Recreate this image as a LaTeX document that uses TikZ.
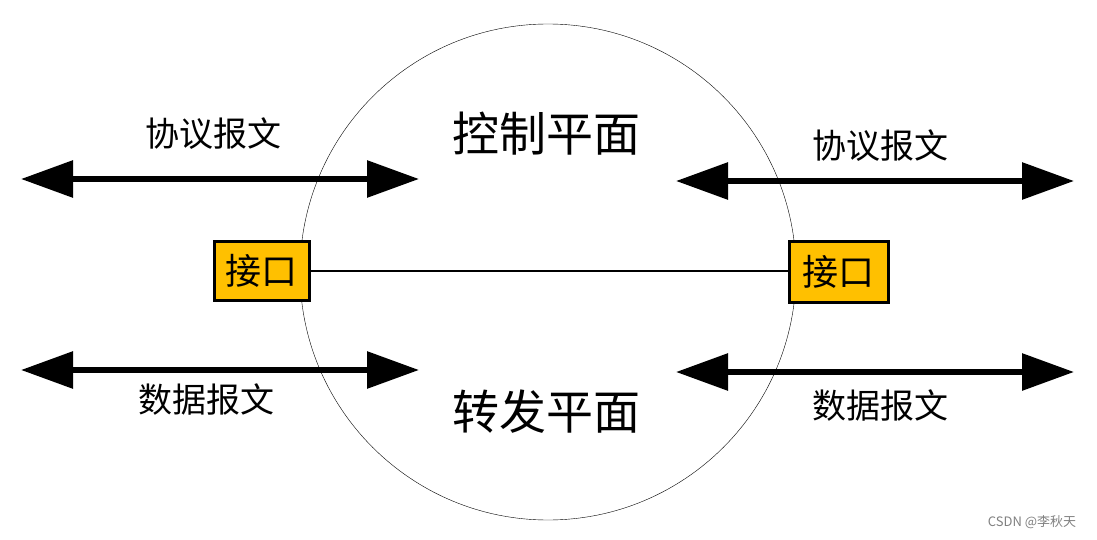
\documentclass[tikz,border=0pt]{standalone}
\usepackage{fontspec}
\setmainfont{Noto Sans CJK SC}
\usepackage{tikz}
\usetikzlibrary{positioning,arrows.meta}
\definecolor{colorport}{RGB}{255,192,0}

\begin{document}
\begin{tikzpicture}[
    x=1pt, y=-1pt,
    label/.style={font={\fontsize{34}{38}\selectfont},inner sep=0pt},
    plane/.style={font={\fontsize{47}{52}\selectfont},inner sep=0pt},
    port/.style={draw,line width=3pt,fill=colorport,minimum width=95pt,minimum height=59pt,
                 inner sep=0pt,font={\fontsize{36}{40}\selectfont}},
    msg/.style={line width=6pt,{Triangle[length=52pt,width=36pt]}-{Triangle[length=52pt,width=36pt]}},
]
    \useasboundingbox (0,0) rectangle (1097,540);

    \node[draw,circle,thin,minimum size=496pt,inner sep=0pt] (ring) at (548,272) {};

    \node[plane] (control) at (546,134) {控制平面};
    \node[plane] (forward) at (546,412) {转发平面};

    \node[port] (portl) at (261.5,271) {接口};
    \node[port,minimum width=99pt,minimum height=61pt] (portr) at (838.5,271.5) {接口};
    \draw[line width=2pt](portl.east) -- (portr.west |- portl.east);

    % left side
    \coordinate (ctrll1) at (21,179);
    \coordinate (ctrll2) at (419,179);
    \coordinate (datal1) at (21,370);
    \coordinate (datal2) at (419,370);
    \draw[msg](ctrll1) -- (ctrll2);
    \draw[msg](datal1) -- (datal2);
    \node[label] (protol) at (213,134) {协议报文};
    \node[label] (packl) at (206,400) {数据报文};

    % right side
    \coordinate (ctrlr1) at (676,181);
    \coordinate (ctrlr2) at (1074,181);
    \coordinate (datar1) at (676,372);
    \coordinate (datar2) at (1074,372);
    \draw[msg](ctrlr1) -- (ctrlr2);
    \draw[msg](datar1) -- (datar2);
    \node[label] (protor) at (880,146) {协议报文};
    \node[label] (packr) at (880,406) {数据报文};

    \node[font={\fontsize{13}{15}\selectfont},text=gray,inner sep=0pt] (mark) at (1032,522) {CSDN @李秋天};
\end{tikzpicture}
\end{document}
